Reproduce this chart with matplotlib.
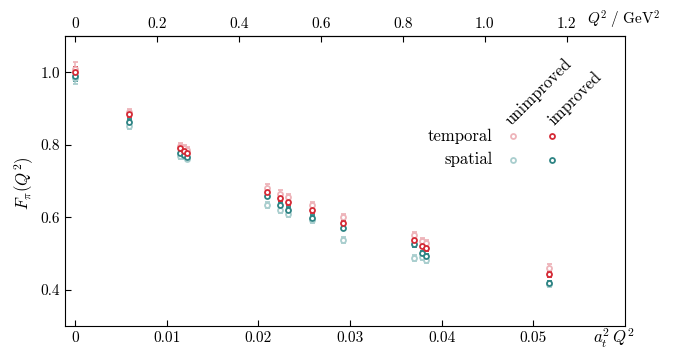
import numpy as np
import matplotlib
matplotlib.use("Agg")
import matplotlib.pyplot as plt
from matplotlib.ticker import FixedLocator, FixedFormatter

plt.rcParams['font.family'] = ['cmr10', 'DejaVu Serif']
plt.rcParams['mathtext.fontset'] = 'cm'
plt.rcParams['axes.formatter.use_mathtext'] = True

# ------------------ datos ------------------
a2q2 = [0.0, 0.00592, 0.01145, 0.0119, 0.0122, 0.02094, 0.02236, 0.02326,
        0.0259, 0.0292, 0.03697, 0.03784, 0.03831, 0.05172]

temporal_unimp = [1.010, 0.890, 0.796, 0.790, 0.785, 0.682, 0.665, 0.656,
                  0.633, 0.601, 0.550, 0.534, 0.529, 0.461]
temporal_imp = [1.000, 0.884, 0.790, 0.784, 0.778, 0.670, 0.652, 0.642,
                0.619, 0.584, 0.537, 0.522, 0.516, 0.444]
spatial_unimp = [0.985, 0.852, 0.770, 0.768, 0.762, 0.633, 0.619, 0.610,
                 0.592, 0.538, 0.487, 0.489, 0.483, 0.415]
spatial_imp = [0.990, 0.862, 0.778, 0.772, 0.765, 0.659, 0.635, 0.621,
               0.598, 0.571, 0.525, 0.500, 0.492, 0.418]

err_temporal_unimp = [0.018, 0.009, 0.008, 0.008, 0.008, 0.009, 0.009, 0.009,
                      0.009, 0.009, 0.009, 0.009, 0.009, 0.009]
err_temporal_imp = [0.014, 0.008, 0.007, 0.007, 0.007, 0.008, 0.008, 0.008,
                    0.008, 0.008, 0.008, 0.008, 0.008, 0.008]
err_spatial_unimp = [0.017, 0.009, 0.008, 0.008, 0.008, 0.008, 0.008, 0.008,
                     0.008, 0.008, 0.008, 0.008, 0.008, 0.007]
err_spatial_imp = [0.014, 0.008, 0.007, 0.007, 0.007, 0.007, 0.007, 0.007,
                   0.007, 0.007, 0.007, 0.007, 0.007, 0.007]

x_ticks = [0, 0.01, 0.02, 0.03, 0.04, 0.05]
x_ticklabels = ['0', '0.01', '0.02', '0.03', '0.04', '0.05']
q2_ticks = [0, 0.2, 0.4, 0.6, 0.8, 1.0, 1.2]
q2_ticklabels = ['0', '0.2', '0.4', '0.6', '0.8', '1.0', '1.2']
y_ticks = [0.4, 0.6, 0.8, 1.0]
y_ticklabels = ['0.4', '0.6', '0.8', '1.0']

a_t2 = 0.0447  # a_t^2 en GeV^-2

col_red = '#d42a36'
col_pink = '#eeb4ba'
col_teal = '#2e8484'
col_pale_teal = '#a9cece'


def main():
    fig = plt.figure(figsize=(6.78, 3.5), dpi=100)
    ax = fig.add_axes([65 / 678, 1 - 326 / 350, 560 / 678, 290 / 350])

    series = [
        (spatial_unimp, err_spatial_unimp, col_pale_teal),
        (temporal_unimp, err_temporal_unimp, col_pink),
        (spatial_imp, err_spatial_imp, col_teal),
        (temporal_imp, err_temporal_imp, col_red),
    ]
    for vals, errs, c in series:
        ax.errorbar(a2q2, vals, yerr=errs, fmt='o', ms=3.6, mfc='white',
                    mec=c, mew=1.3, ecolor=c, elinewidth=1.2, capsize=1.8,
                    capthick=1.2)

    ax.set_xlim(-0.0011, 0.06)
    ax.set_ylim(0.3, 1.1)
    ax.xaxis.set_major_locator(FixedLocator(x_ticks))
    ax.xaxis.set_major_formatter(FixedFormatter(x_ticklabels))
    ax.yaxis.set_major_locator(FixedLocator(y_ticks))
    ax.yaxis.set_major_formatter(FixedFormatter(y_ticklabels))
    ax.tick_params(direction='in', length=4, width=0.8, labelsize=11,
                   top=False, right=False)

    top = ax.secondary_xaxis('top', functions=(lambda x: x / a_t2,
                                                lambda q: q * a_t2))
    top.xaxis.set_major_locator(FixedLocator(q2_ticks))
    top.xaxis.set_major_formatter(FixedFormatter(q2_ticklabels))
    top.tick_params(direction='in', length=4, width=0.8, labelsize=11)

    ax.text(0.98, -0.044, r'$a_t^2\,Q^2$', transform=ax.transAxes,
            ha='center', va='center', fontsize=12)
    ax.text(0.998, 1.055, r'$Q^2\;/\;\mathrm{GeV}^2$', transform=ax.transAxes,
            ha='center', va='center', fontsize=11)
    ax.set_ylabel(r'$F_\pi(Q^2)$', fontsize=12)
    ax.yaxis.set_label_coords(-0.052, 0.493)

    # leyenda en forma de tabla
    cols = [(0.7995, col_pink, col_pale_teal, 'unimproved', 0.0),
            (0.870, col_red, col_teal, 'improved', 0.006)]
    rows_y = [0.655, 0.574]
    for xc, ct, cs, name, dx in cols:
        ax.plot([xc], [rows_y[0]], 'o', ms=3.6, mfc='white', mec=ct, mew=1.3,
                transform=ax.transAxes, clip_on=False)
        ax.plot([xc], [rows_y[1]], 'o', ms=3.6, mfc='white', mec=cs, mew=1.3,
                transform=ax.transAxes, clip_on=False)
        ax.text(xc - 0.002 + dx, 0.69, name, transform=ax.transAxes,
                rotation=45, rotation_mode='anchor', ha='left', va='baseline',
                fontsize=12)
    ax.text(0.764, rows_y[0], 'temporal', transform=ax.transAxes,
            ha='right', va='center', fontsize=12)
    ax.text(0.764, rows_y[1], 'spatial', transform=ax.transAxes,
            ha='right', va='center', fontsize=12)

    fig.savefig('out.png', dpi=100)


if __name__ == "__main__":
    main()
